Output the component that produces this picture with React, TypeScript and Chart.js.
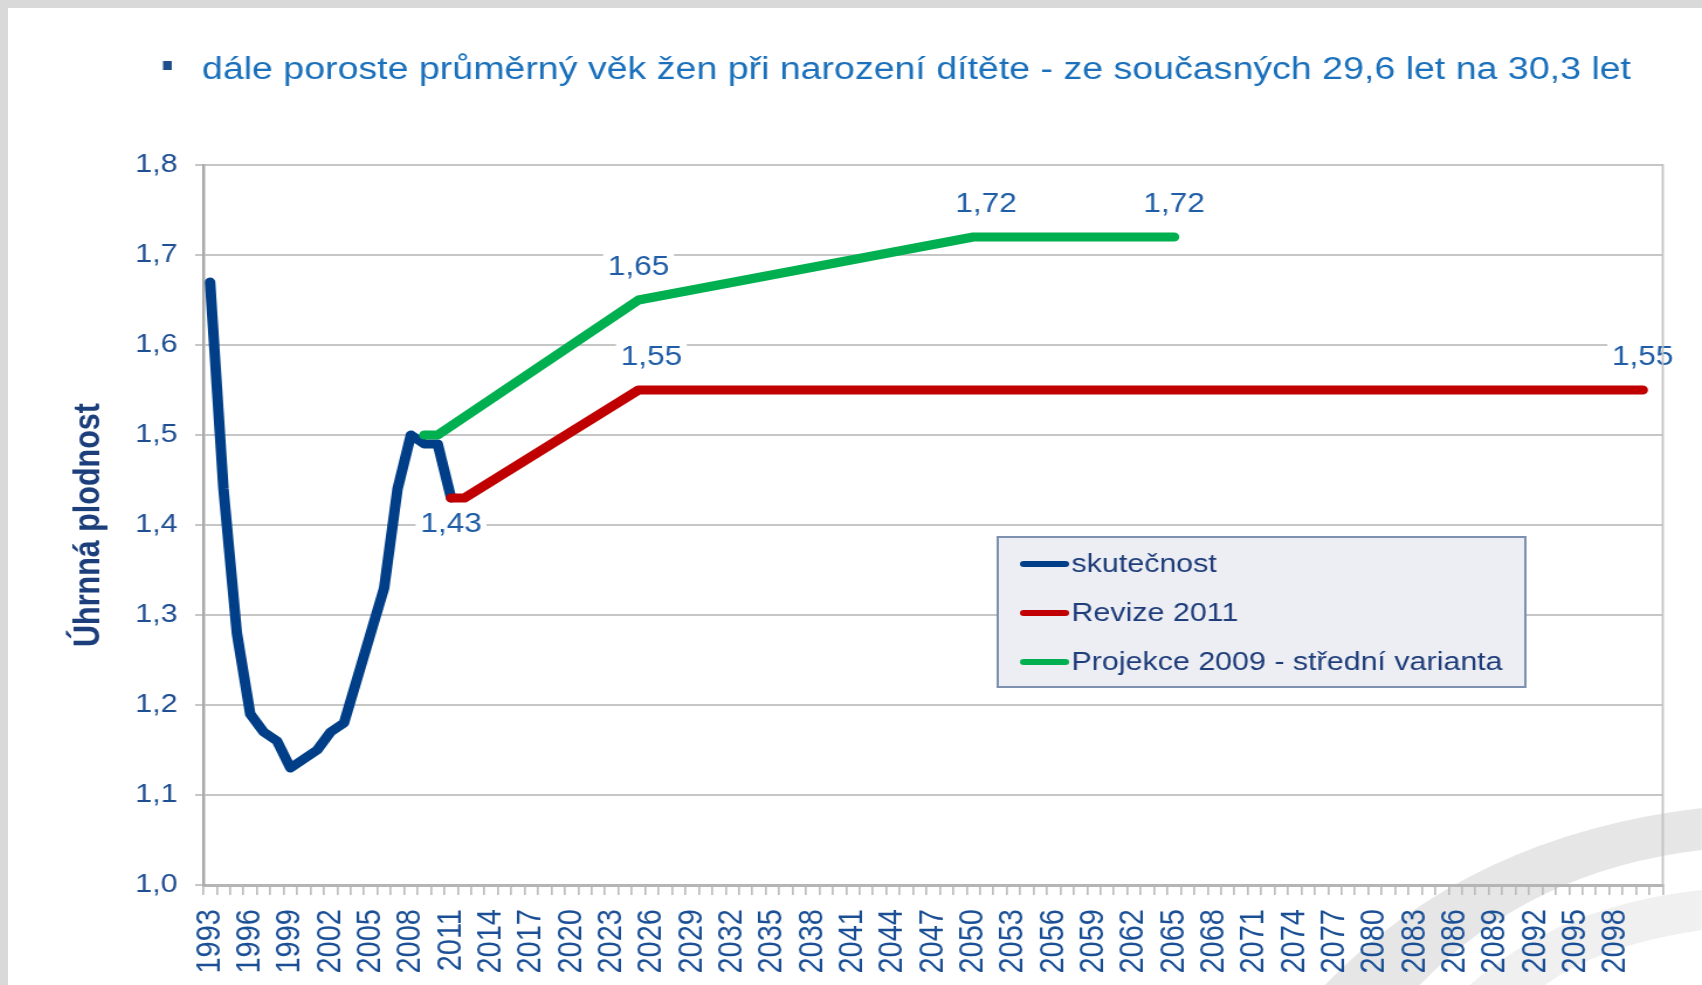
import React, { useEffect, useRef } from 'react';
import { Chart, registerables } from 'chart.js';

Chart.register(...registerables);

// ---------- data ----------
const yearLabels = [
  '1993', '1994', '1995', '1996', '1997', '1998', '1999', '2000', '2001', '2002',
  '2003', '2004', '2005', '2006', '2007', '2008', '2009', '2010', '2011', '2012',
  '2013', '2014', '2015', '2016', '2017', '2018', '2019', '2020', '2021', '2022',
  '2023', '2024', '2025', '2026', '2027', '2028', '2029', '2030', '2031', '2032',
  '2033', '2034', '2035', '2036', '2037', '2038', '2039', '2040', '2041', '2042',
  '2043', '2044', '2045', '2046', '2047', '2048', '2049', '2050', '2051', '2052',
  '2053', '2054', '2055', '2056', '2057', '2058', '2059', '2060', '2061', '2062',
  '2063', '2064', '2065', '2066', '2067', '2068', '2069', '2070', '2071', '2072',
  '2073', '2074', '2075', '2076', '2077', '2078', '2079', '2080', '2081', '2082',
  '2083', '2084', '2085', '2086', '2087', '2088', '2089', '2090', '2091', '2092',
  '2093', '2094', '2095', '2096', '2097', '2098', '2099', '2100', '2101',
];

const actualYears = [
  '1993', '1994', '1995', '1996', '1997', '1998', '1999', '2000', '2001', '2002',
  '2003', '2004', '2005', '2006', '2007', '2008', '2009', '2010', '2011',
];
const actualValues = [
  1.67, 1.44, 1.28, 1.19, 1.17, 1.16, 1.13, 1.14, 1.15, 1.17,
  1.18, 1.23, 1.28, 1.33, 1.44, 1.50, 1.49, 1.49, 1.43,
];

const revizeYears = ['2011', '2012', '2025', '2100'];
const revizeValues = [1.43, 1.43, 1.55, 1.55];

const projekceYears = ['2009', '2010', '2025', '2050', '2065'];
const projekceValues = [1.50, 1.50, 1.65, 1.72, 1.72];

const seriesNames = ['skutečnost', 'Revize 2011', 'Projekce 2009 - střední varianta'];
const seriesColors = ['#003f87', '#c00000', '#00b050'];

const yMin = 1.0;
const yMax = 1.8;
const yStep = 0.1;

// value labels: [series index, year, placement, horizontal nudge]
const valueLabels: [number, string, 'above' | 'below', number][] = [
  [1, '2011', 'below', 0],
  [1, '2025', 'above', 11],
  [1, '2100', 'above', 0],
  [2, '2025', 'above', 0],
  [2, '2050', 'above', 11],
  [2, '2065', 'above', 0],
];

const titleText = 'dále poroste průměrný věk žen při narození dítěte - ze současných 29,6 let na 30,3 let';
const yAxisTitle = 'Úhrnná plodnost';

// ---------- styling ----------
const STRETCH = 1.17;
const PAGE_W = 1694;
const PAGE_H = 977;
const CANVAS_W = Math.round(PAGE_W / STRETCH);
const FONT = "'Liberation Sans', Arial, Helvetica, sans-serif";

const fmt = (v: number, d: number) => v.toFixed(d).replace('.', ',');

const swooshPlugin = {
  id: 'swoosh',
  beforeDraw(chart: any) {
    const { ctx } = chart;
    const px = (x: number) => (x - 8) / STRETCH;
    const py = (y: number) => y - 8;
    ctx.save();
    ctx.fillStyle = '#e6e6e6';
    ctx.beginPath();
    ctx.moveTo(px(1325), py(985));
    ctx.quadraticCurveTo(px(1470), py(835), px(1702), py(808));
    ctx.lineTo(px(1702), py(850));
    ctx.quadraticCurveTo(px(1530), py(870), px(1420), py(985));
    ctx.closePath();
    ctx.fill();
    ctx.fillStyle = '#f0f0f0';
    ctx.beginPath();
    ctx.moveTo(px(1470), py(985));
    ctx.quadraticCurveTo(px(1560), py(905), px(1702), py(890));
    ctx.lineTo(px(1702), py(930));
    ctx.quadraticCurveTo(px(1600), py(945), px(1545), py(985));
    ctx.closePath();
    ctx.fill();
    ctx.restore();
  },
};

const framePlugin = {
  id: 'frame',
  afterDraw(chart: any) {
    const { ctx, chartArea } = chart;
    ctx.save();
    ctx.strokeStyle = '#c2c2c2';
    ctx.lineWidth = 1.8;
    ctx.beginPath();
    ctx.moveTo(chartArea.right, chartArea.top - 1);
    ctx.lineTo(chartArea.right, chartArea.bottom);
    ctx.stroke();
    ctx.restore();
  },
};

const titlePlugin = {
  id: 'slideTitle',
  afterDraw(chart: any) {
    const { ctx } = chart;
    ctx.save();
    ctx.fillStyle = '#1f4e8c';
    ctx.fillRect(132.5, 53, 7.5, 9);
    ctx.font = `36px ${FONT}`;
    const w = ctx.measureText(titleText).width;
    const size = (36 * 1222) / w;
    ctx.font = `${size}px ${FONT}`;
    ctx.fillStyle = '#1a70bb';
    ctx.textBaseline = 'alphabetic';
    ctx.textAlign = 'left';
    ctx.fillText(titleText, 165.8, 71);
    ctx.restore();
  },
};

const valueLabelPlugin = {
  id: 'valueLabels',
  afterDatasetsDraw(chart: any) {
    const { ctx } = chart;
    ctx.save();
    ctx.font = `27px ${FONT}`;
    ctx.textAlign = 'center';
    ctx.textBaseline = 'middle';
    valueLabels.forEach(([si, year, place, dx]) => {
      const ds = chart.data.datasets[si];
      const idx = ds.data.findIndex((p: any) => p.x === year);
      if (idx < 0) return;
      const el = chart.getDatasetMeta(si).data[idx];
      const text = fmt(ds.data[idx].y, 2);
      const x = el.x + dx;
      const y = place === 'above' ? el.y - 33 : el.y + 26;
      const tw = ctx.measureText(text).width;
      ctx.fillStyle = '#ffffff';
      ctx.fillRect(x - tw / 2 - 4, y - 15, tw + 8, 30);
      ctx.fillStyle = '#1f5da6';
      ctx.fillText(text, x, y + 1);
    });
    ctx.restore();
  },
};

const legendPlugin = {
  id: 'boxLegend',
  afterDraw(chart: any) {
    const { ctx } = chart;
    const left = 846;
    const top = 529;
    const right = 1297;
    const bottom = 679;
    ctx.save();
    ctx.fillStyle = '#eceef3';
    ctx.fillRect(left, top, right - left, bottom - top);
    ctx.strokeStyle = '#7d90b0';
    ctx.lineWidth = 2;
    ctx.strokeRect(left, top, right - left, bottom - top);
    ctx.font = `26px ${FONT}`;
    ctx.textBaseline = 'middle';
    ctx.textAlign = 'left';
    chart.data.datasets.forEach((ds: any, i: number) => {
      const y = 556 + i * 49;
      ctx.strokeStyle = ds.borderColor;
      ctx.lineWidth = 6;
      ctx.lineCap = 'round';
      ctx.beginPath();
      ctx.moveTo(868, y);
      ctx.lineTo(904, y);
      ctx.stroke();
      ctx.fillStyle = '#1f3d7a';
      ctx.fillText(ds.label, 909, y + 1);
    });
    ctx.restore();
  },
};

function toPoints(xs: string[], ys: number[]) {
  return xs.map((x, i) => ({ x, y: ys[i] }));
}

export default function App() {
  const ref = useRef<HTMLCanvasElement | null>(null);

  useEffect(() => {
    document.body.style.background = '#d9d9d9';
    document.body.style.overflow = 'hidden';
    if (!ref.current) return;
    const lineStyle = {
      borderWidth: 9,
      pointRadius: 0,
      pointHoverRadius: 0,
      borderCapStyle: 'round' as const,
      borderJoinStyle: 'round' as const,
      tension: 0,
      fill: false,
    };
    const chart = new Chart(ref.current, {
      type: 'line',
      data: {
        labels: yearLabels,
        datasets: [
          { label: seriesNames[0], data: toPoints(actualYears, actualValues), borderColor: seriesColors[0], backgroundColor: seriesColors[0], order: 2, ...lineStyle },
          { label: seriesNames[1], data: toPoints(revizeYears, revizeValues), borderColor: seriesColors[1], backgroundColor: seriesColors[1], order: 1, ...lineStyle },
          { label: seriesNames[2], data: toPoints(projekceYears, projekceValues), borderColor: seriesColors[2], backgroundColor: seriesColors[2], order: 0, ...lineStyle },
        ],
      },
      options: {
        animation: false,
        responsive: false,
        devicePixelRatio: 1,
        events: [],
        layout: { padding: { top: 157, right: 33.5, bottom: 0, left: 0 } },
        plugins: {
          legend: { display: false },
          title: { display: false },
          tooltip: { enabled: false },
        },
        scales: {
          x: {
            type: 'category',
            offset: true,
            grid: {
              offset: true,
              drawOnChartArea: false,
              drawTicks: true,
              tickLength: 10,
              color: '#bdbdbd',
              lineWidth: 1.7,
            },
            border: { display: true, color: '#b5b5b5', width: 3 },
            ticks: {
              autoSkip: false,
              maxRotation: 90,
              minRotation: 90,
              padding: 14,
              color: '#1a4f95',
              font: { family: FONT, size: 29 },
              callback: (_v: any, i: number) => (i % 3 === 0 && i < yearLabels.length - 1 ? yearLabels[i] : ''),
            },
            afterFit: (scale: any) => {
              scale.height = PAGE_H - 877;
              scale.paddingLeft = 0;
              scale.paddingRight = 0;
            },
          },
          y: {
            min: yMin,
            max: yMax,
            grid: { color: '#c6c6c6', lineWidth: 2, tickLength: 7, drawTicks: true },
            border: { display: true, color: '#a9a9a9', width: 2.5 },
            ticks: {
              stepSize: yStep,
              padding: 15,
              color: '#1f4f93',
              font: { family: FONT, size: 26 },
              callback: (v: any) => fmt(Number(v), 1),
            },
            title: {
              display: true,
              text: yAxisTitle,
              color: '#1c3f7c',
              font: { family: FONT, size: 30.5, weight: 'bold' },
              padding: { top: 51, bottom: 0 },
            },
            afterFit: (scale: any) => {
              scale.width = 167;
              scale.paddingTop = 0;
              scale.paddingBottom = 0;
            },
          },
        },
      },
      plugins: [swooshPlugin, framePlugin, valueLabelPlugin, legendPlugin, titlePlugin],
    } as any);
    return () => chart.destroy();
  }, []);

  return (
    <div
      style={{
        position: 'absolute',
        left: 8,
        top: 8,
        width: PAGE_W,
        height: PAGE_H,
        background: '#ffffff',
        overflow: 'hidden',
      }}
    >
      <canvas
        ref={ref}
        width={CANVAS_W}
        height={PAGE_H}
        style={{ width: `${PAGE_W}px`, height: `${PAGE_H}px`, display: 'block' }}
      />
    </div>
  );
}
